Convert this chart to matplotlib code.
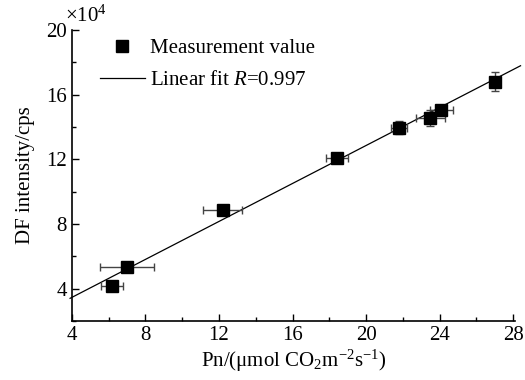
import matplotlib
matplotlib.use("Agg")
import matplotlib.pyplot as plt
import numpy as np
from matplotlib.ticker import MultipleLocator
from matplotlib.lines import Line2D

plt.rcParams['font.family'] = ['Liberation Serif', 'DejaVu Serif']
plt.rcParams['mathtext.fontset'] = 'custom'
plt.rcParams['mathtext.rm'] = 'Liberation Serif'
plt.rcParams['mathtext.it'] = 'Liberation Serif:italic'

# Data (x: Pn, y: DF intensity in units of 1e4 cps)
pn = [6.2, 7.0, 12.2, 18.4, 21.8, 23.5, 24.1, 27.0]
df = [4.2, 5.35, 8.85, 12.1, 13.95, 14.55, 15.05, 16.8]
pn_err = [0.6, 1.45, 1.05, 0.6, 0.45, 0.8, 0.6, 0.0]
df_err = [0.3, 0.15, 0.3, 0.2, 0.4, 0.5, 0.3, 0.6]
fit_slope = 0.587
fit_intercept = 1.12
fit_x = [3.9, 28.4]

fig = plt.figure(figsize=(5.25, 3.8), dpi=100)
ax = fig.add_axes([0.137, 0.155, 0.844, 0.766])

fx = np.array(fit_x)
ax.plot(fx, fit_slope * fx + fit_intercept, color='black', lw=0.9,
        zorder=2, clip_on=False)
ax.errorbar(pn, df, xerr=pn_err, yerr=df_err, fmt='s', color='black',
            ecolor='#444444', elinewidth=1.0, capsize=3, capthick=1.0,
            markersize=9, zorder=3)

ax.set_xlim(4, 28.1)
ax.set_ylim(2, 20)
ax.xaxis.set_major_locator(MultipleLocator(4))
ax.xaxis.set_minor_locator(MultipleLocator(2))
ax.set_yticks([4, 8, 12, 16, 20])
ax.yaxis.set_minor_locator(MultipleLocator(2))
ax.tick_params(which='both', direction='in', labelsize=15, width=1.0)
ax.tick_params(which='major', length=5)
ax.tick_params(which='minor', length=3)
ax.spines['top'].set_visible(False)
ax.spines['right'].set_visible(False)
for s in ['left', 'bottom']:
    ax.spines[s].set_linewidth(1.2)

ax.set_xlabel('Pn/(μmol CO$_2$m$^{-2}$s$^{-1}$)', fontsize=15, labelpad=2)
ax.set_ylabel('DF intensity/cps', fontsize=15, labelpad=8)
ax.text(-0.015, 1.01, r'×10$^4$', transform=ax.transAxes, fontsize=15,
        ha='left', va='bottom')

h = [Line2D([], [], marker='s', color='black', ls='none', markersize=8),
     Line2D([], [], color='black', lw=0.9)]
ax.legend(h, ['Measurement value', 'Linear fit $R$=0.997'], loc='upper left',
          bbox_to_anchor=(0.02, 1.035), frameon=False, fontsize=15,
          handlelength=2.2, handletextpad=0.2, labelspacing=0.6)

fig.savefig('out.png', dpi=100)
